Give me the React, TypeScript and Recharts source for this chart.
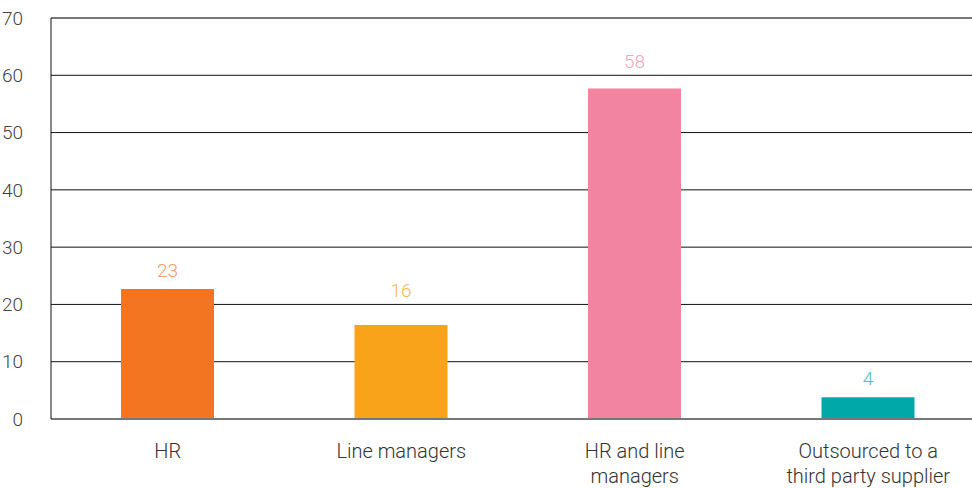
import React from 'react'
import { BarChart, Bar, XAxis, YAxis, CartesianGrid, Cell, LabelList, ReferenceLine } from 'recharts'

const categories = ['HR', 'Line managers', 'HR and line\nmanagers', 'Outsourced to a\nthird party supplier']
const values = [22.7, 16.4, 57.7, 3.8]
const valueLabels = ['23', '16', '58', '4']
const barColors = ['#F37521', '#F9A31B', '#F3849F', '#00A8A8']
const labelColors = ['#F49A63', '#F9B65A', '#F5A3B8', '#4DC3C0']
const yTicks = [0, 10, 20, 30, 40, 50, 60, 70]

const data = categories.map((name, i) => ({ name, value: values[i] }))

const FONT = 'Roboto, "DejaVu Sans", sans-serif'

const CategoryTick = ({ x, y, payload }: any) => {
  const lines = String(payload.value).split('\n')
  return (
    <text x={x} y={y} textAnchor="middle" fill="#333" fontSize={20} fontWeight={300} fontFamily={FONT}>
      {lines.map((line, i) => (
        <tspan key={i} x={x} dy={i === 0 ? 39 : 25}>{line}</tspan>
      ))}
    </text>
  )
}

// label sits above the bar, but is lifted over a gridline if it would sit on one
const ValueLabel = ({ x, y, width, height, value, index }: any) => {
  const perUnit = height / value
  const base = y + height
  let center = y - 19
  yTicks.forEach((t) => {
    const gy = base - t * perUnit
    if (Math.abs(gy - center) < 10) center = gy - 14
  })
  return (
    <text
      x={x + width / 2}
      y={center}
      dy="0.35em"
      textAnchor="middle"
      fill={labelColors[index]}
      fontSize={19}
      fontWeight={300}
      fontFamily={FONT}
    >
      {valueLabels[index]}
    </text>
  )
}

export default function App() {
  return (
    <div style={{ position: 'absolute', left: 0, top: 0, width: 972, height: 488, overflow: 'hidden', background: '#fff' }}>
      <BarChart width={985} height={488} data={data} margin={{ top: 18, right: 0, left: 0, bottom: 0 }}>
        <CartesianGrid vertical={false} stroke="#111" strokeWidth={1} />
        <XAxis
          dataKey="name"
          height={69}
          axisLine={false}
          tickLine={false}
          tickSize={0}
          tickMargin={0}
          interval={0}
          tick={<CategoryTick />}
        />
        <YAxis
          width={51}
          domain={[0, 70]}
          ticks={yTicks}
          axisLine={{ stroke: '#111', strokeWidth: 1 }}
          tickLine={false}
          tickMargin={22}
          tick={{ fill: '#444', fontSize: 19, fontWeight: 300, fontFamily: FONT }}
        />
        <ReferenceLine y={70} stroke="#777" strokeWidth={2} />
        <Bar dataKey="value" barSize={93} isAnimationActive={false}>
          {data.map((d, i) => (
            <Cell key={d.name} fill={barColors[i]} />
          ))}
          <LabelList dataKey="value" content={<ValueLabel />} />
        </Bar>
        <ReferenceLine y={0} stroke="#777" strokeWidth={2} />
      </BarChart>
    </div>
  )
}
